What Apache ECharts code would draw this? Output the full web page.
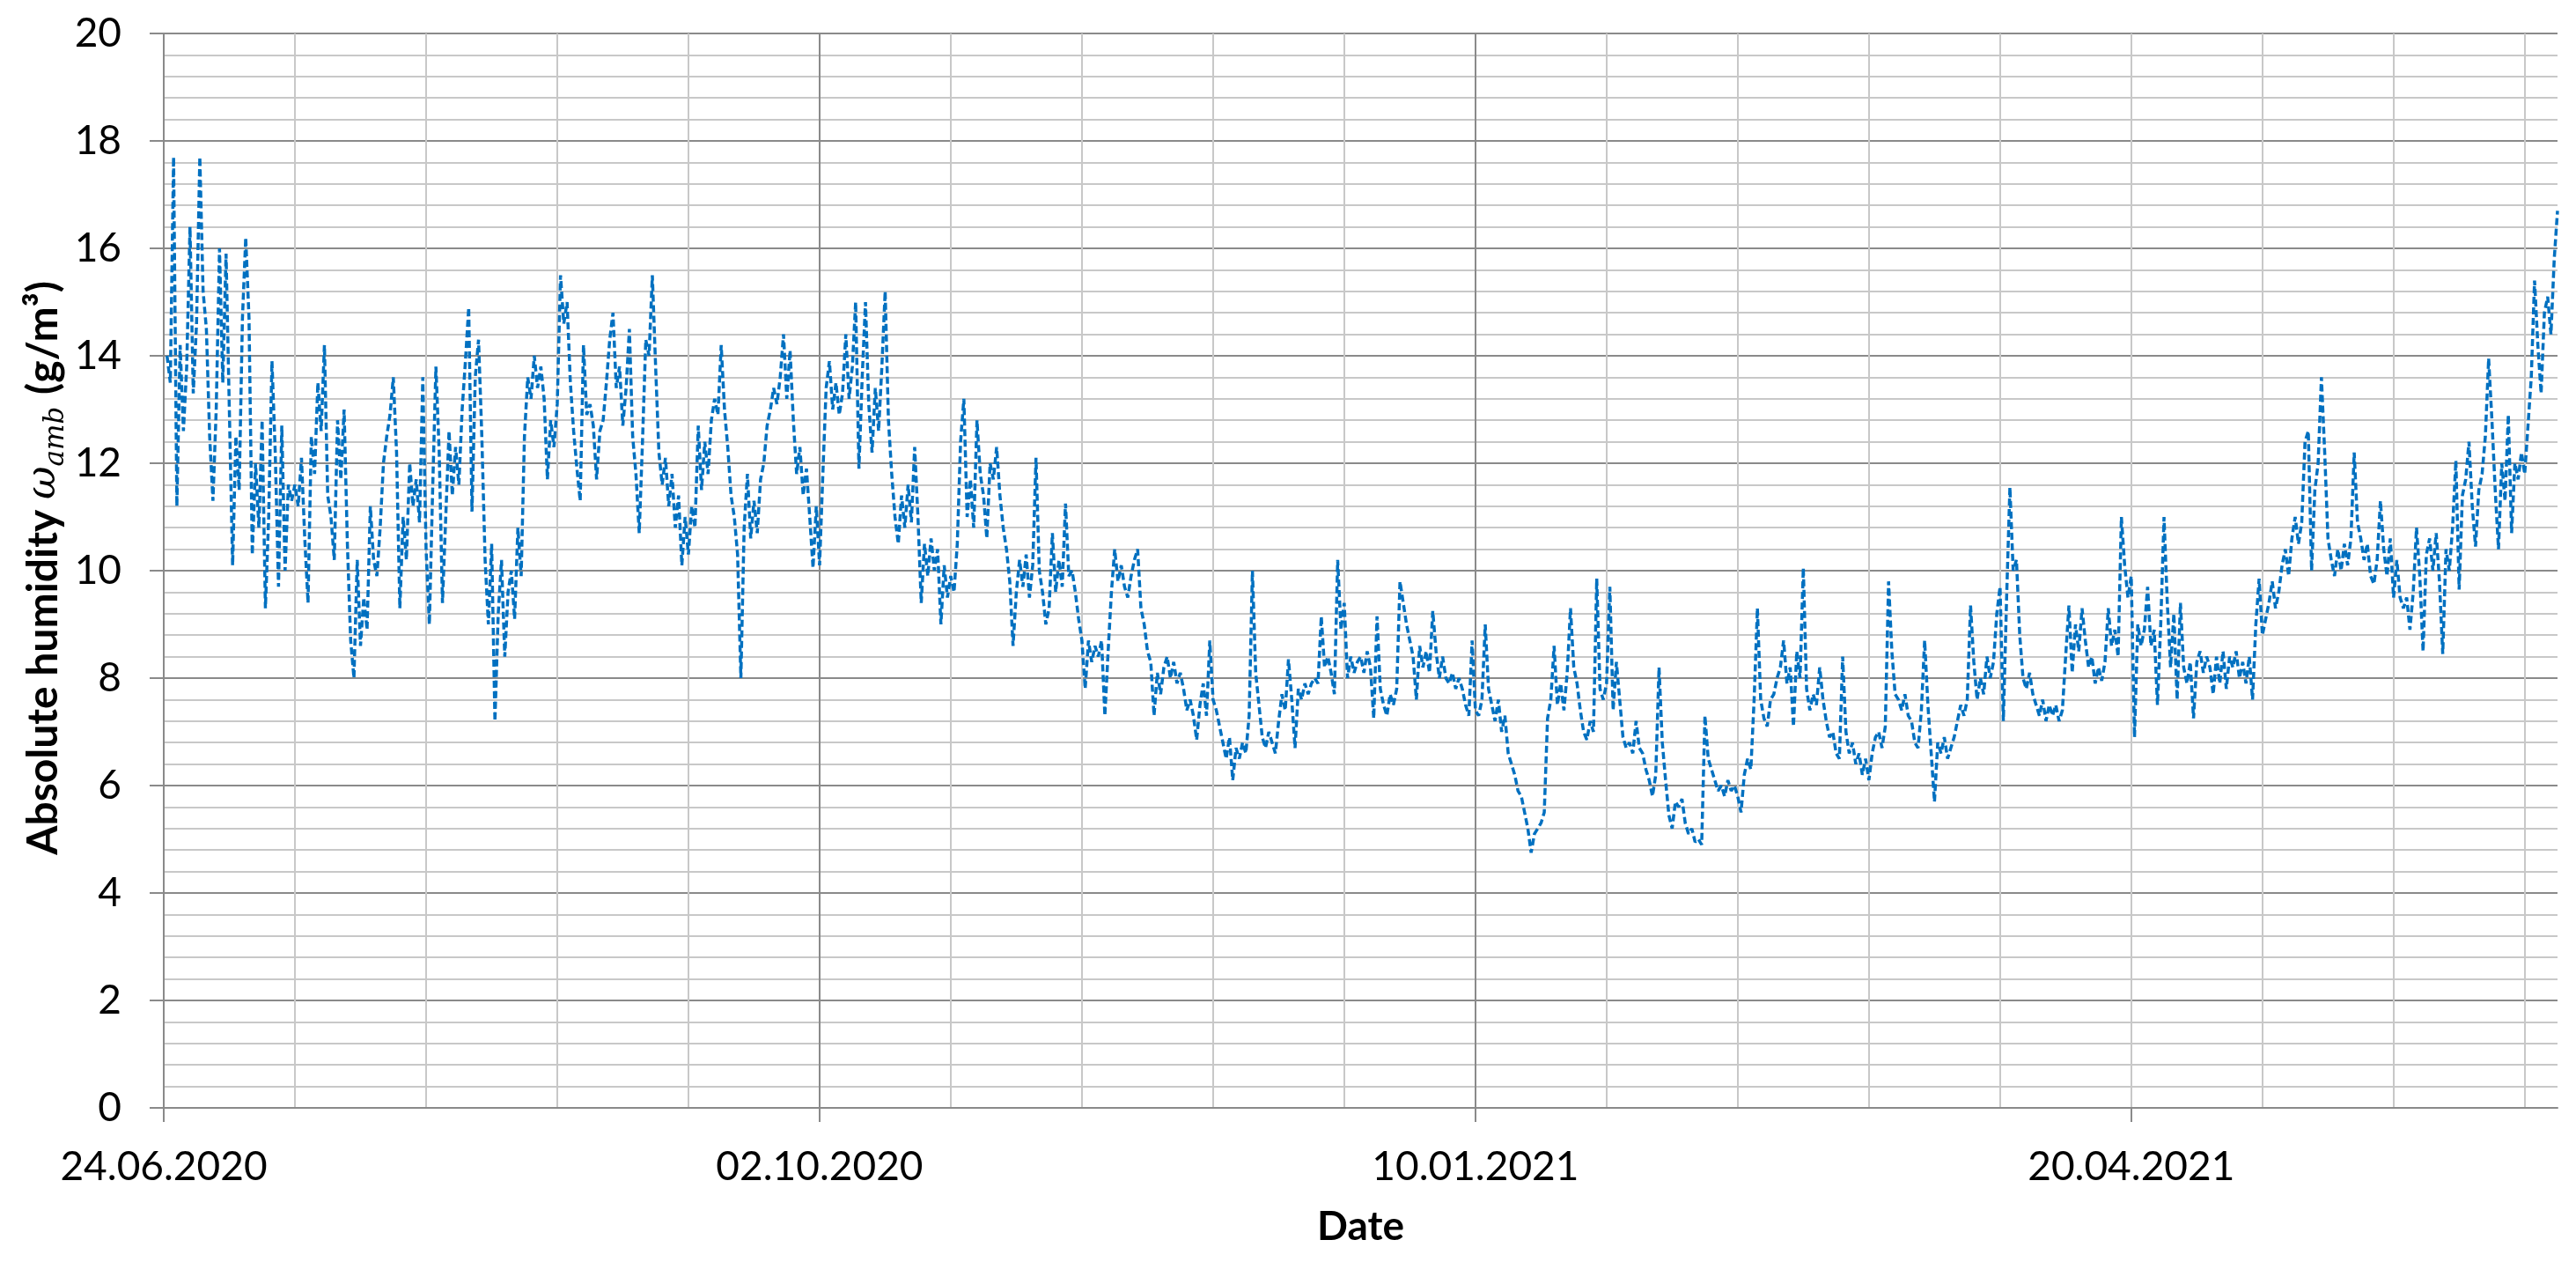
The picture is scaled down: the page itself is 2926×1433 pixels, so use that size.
<!DOCTYPE html>
<html><head><meta charset="utf-8">
<script src="https://cdn.jsdelivr.net/npm/echarts@6/dist/echarts.min.js"></script>
<style>html,body{margin:0;padding:0;background:#fff}#c{width:2926px;height:1433px}</style>
</head><body><div id="c"></div>
<script>
// x axis: days since 24.06.2020
const xTickDays = [0, 100, 200, 300];
const xTickLabels = ['24.06.2020', '02.10.2020', '10.01.2021', '20.04.2021'];
const xTitle = 'Date';
const yTitleParts = ['Absolute humidity ', 'ω', 'amb', ' (g/m³)'];
const firstDay = 0.5;   // day of first reading
const stepDays = 0.5;   // 12-hourly readings

// absolute humidity (g/m3), 12-hourly
const d000_020 = [14.0,13.5,17.7,11.2,14.2,12.6,13.8,16.4,13.3,14.6,17.7,15.2,14.5,12.5,11.3,13.0,16.0,13.5,15.9,13.0,
                  10.1,12.5,11.5,14.7,16.2,14.7,10.3,12.0,10.8,12.8,9.3,11.0,13.9,12.2,9.7,12.7,10.0,11.6,11.3,11.6];
const d020_040 = [11.2,12.1,10.6,9.4,12.5,11.8,13.5,12.6,14.2,11.4,11.0,10.2,12.8,11.7,13.0,10.5,8.7,8.0,10.2,8.6,
                  9.5,8.9,11.2,10.2,9.9,10.8,12.0,12.5,12.9,13.6,12.2,9.3,11.0,10.2,12.0,11.2,11.7,10.9,13.6,10.4];
const d040_060 = [9.0,11.5,13.8,12.2,9.4,11.0,12.6,11.4,12.3,11.6,13.0,13.9,14.9,11.1,13.6,14.3,12.5,10.2,9.0,10.5,
                  7.2,9.2,10.2,8.4,9.6,10.0,9.1,10.8,9.9,12.5,13.6,13.2,14.0,13.4,13.8,13.2,11.7,12.8,12.3,13.1];
const d060_080 = [15.5,14.6,15.0,13.5,12.6,11.9,11.3,14.2,12.9,13.1,12.7,11.7,12.6,12.8,13.5,14.3,14.8,13.4,13.8,12.7,
                  13.4,14.5,12.5,11.8,10.7,12.4,14.3,14.0,15.5,13.8,12.2,11.6,12.1,11.2,11.8,10.8,11.4,10.1,11.0,10.3];
const d080_100 = [11.2,10.8,12.7,11.5,12.4,11.8,12.8,13.2,12.9,14.2,13.0,12.3,11.4,11.0,10.3,8.0,10.8,11.8,10.6,11.3,
                  10.7,11.7,12.0,12.7,13.0,13.4,13.1,13.6,14.4,13.2,14.1,12.8,11.8,12.3,11.4,11.9,11.0,10.05,11.2,10.1];
const d100_120 = [11.8,13.4,13.9,13.0,13.5,12.9,13.3,14.4,13.2,13.8,15.0,11.9,13.6,15.0,13.1,12.2,13.4,12.6,13.8,15.2,
                  12.8,11.8,11.0,10.5,11.4,10.8,11.6,10.9,12.3,11.0,9.4,10.5,9.9,10.6,10.0,10.4,9.0,10.1,9.5,9.9];
const d120_140 = [9.6,10.5,12.4,13.2,11.0,11.7,10.8,12.8,11.8,11.4,10.6,12.0,11.7,12.3,11.4,10.8,10.4,9.8,8.6,9.6,
                  10.2,9.7,10.3,9.5,10.1,12.1,10.0,9.6,9.0,9.3,10.7,9.6,10.2,9.7,11.25,9.9,10.0,9.6,9.1,8.7];
const d140_160 = [7.8,8.7,8.3,8.6,8.4,8.7,7.3,8.5,9.6,10.4,9.8,10.1,9.7,9.5,9.9,10.2,10.4,9.3,9.0,8.5,
                  8.3,7.3,8.1,7.7,8.2,8.4,8.0,8.3,7.9,8.1,7.8,7.4,7.6,7.3,6.85,7.5,7.9,7.3,8.7,7.6];
const d160_180 = [7.4,7.1,6.8,6.5,6.9,6.1,6.7,6.5,6.8,6.6,7.3,10.0,8.1,7.5,6.9,6.7,7.0,6.8,6.6,7.2,
                  7.7,7.4,8.35,7.6,6.7,7.8,7.6,7.9,7.7,7.9,8.0,7.9,9.15,8.2,8.4,8.1,7.7,10.2,8.9,9.4];
const d180_200 = [8.0,8.4,8.1,8.3,8.4,8.1,8.5,8.2,7.25,9.15,7.8,7.5,7.3,7.7,7.5,7.8,9.8,9.4,9.0,8.7,
                  8.4,7.6,8.6,8.2,8.5,8.1,9.25,8.5,8.0,8.4,8.0,7.9,8.1,7.8,8.0,7.8,7.5,7.3,8.7,7.4];
const d200_220 = [7.3,7.6,9.0,7.8,7.5,7.2,7.6,7.0,7.3,6.6,6.4,6.2,5.9,5.8,5.5,5.2,4.75,5.1,5.2,5.3,
                  5.5,7.25,7.6,8.6,7.5,7.9,7.4,8.1,9.3,8.2,7.9,7.4,7.0,6.85,7.2,7.0,9.85,7.8,7.6,7.9];
const d220_240 = [9.7,7.4,8.3,7.6,6.9,6.7,6.8,6.6,7.2,6.7,6.6,6.3,6.1,5.8,6.2,8.2,6.8,6.1,5.45,5.2,
                  5.7,5.6,5.75,5.3,5.1,5.2,4.95,5.0,4.9,7.3,6.5,6.3,6.1,5.9,6.0,5.8,6.1,5.9,6.0,5.8];
const d240_260 = [5.5,6.2,6.5,6.3,7.6,9.3,7.6,7.25,7.1,7.6,7.7,8.0,8.2,8.7,7.9,8.2,7.1,8.5,8.0,10.05,
                  7.8,7.4,7.7,7.5,8.2,7.6,7.2,6.9,7.0,6.6,6.5,8.4,7.0,6.6,6.8,6.4,6.6,6.2,6.5,6.1];
const d260_280 = [6.6,6.9,7.0,6.7,7.1,9.8,8.5,7.7,7.6,7.4,7.7,7.3,7.2,6.8,6.7,7.4,8.7,7.5,6.6,5.7,
                  6.8,6.6,6.9,6.5,6.7,6.9,7.2,7.5,7.3,7.6,9.35,8.3,7.6,8.0,7.7,8.4,8.0,8.3,9.2,9.7];
const d280_300 = [7.2,9.5,11.55,10.0,10.2,8.8,8.0,7.8,8.1,7.7,7.5,7.3,7.6,7.2,7.5,7.3,7.5,7.2,7.4,8.4,
                  9.35,8.1,9.0,8.5,9.3,8.7,8.2,8.4,7.9,8.2,7.95,8.3,9.3,8.6,8.9,8.4,11.0,10.1,9.5,9.9];
const d300_320 = [6.9,9.0,8.6,8.9,9.7,8.6,8.9,7.5,9.0,11.0,9.4,8.2,9.2,7.6,9.4,8.2,7.9,8.3,7.25,8.3,
                  8.5,8.1,8.4,8.2,7.7,8.4,7.9,8.5,7.8,8.4,8.2,8.5,8.0,8.3,7.9,8.4,7.6,9.0,9.85,8.8];
const d320_340 = [9.1,9.4,9.8,9.3,9.6,10.1,10.4,9.9,10.6,11.0,10.5,10.9,12.4,12.6,10.0,11.5,12.0,13.6,12.2,10.6,
                  10.2,9.9,10.4,10.0,10.5,10.1,10.6,12.2,10.9,10.6,10.2,10.5,9.9,9.75,10.2,11.3,10.4,9.9,10.6,9.5];
const d340_365 = [10.2,9.5,9.3,9.5,8.9,9.6,10.8,9.9,8.5,10.3,10.6,10.0,10.7,9.8,8.45,10.4,10.0,10.8,12.05,9.65,
                  11.4,11.7,12.4,11.2,10.45,11.5,11.8,12.5,13.95,12.8,11.5,10.4,12.0,11.3,12.9,10.7,12.0,11.7,12.2,11.8,
                  12.7,13.6,15.4,14.2,13.3,14.8,15.1,14.4,15.8,16.7];

const values = [].concat(d000_020, d020_040, d040_060, d060_080, d080_100, d100_120, d120_140,
  d140_160, d160_180, d180_200, d200_220, d220_240, d240_260, d260_280, d280_300, d300_320, d320_340, d340_365);
const seriesData = values.map((v, i) => [firstDay + i * stepDays, v]);

const FONT = 'Lato';
const MAJOR = '#8a8a8a', MINOR = '#c8c8c8';
const chart = echarts.init(document.getElementById('c'), null, {renderer: 'canvas'});
chart.setOption({
  animation: false,
  backgroundColor: '#ffffff',
  grid: {left: 186, right: 21, top: 38, bottom: 175, containLabel: false},
  xAxis: [
    {
      type: 'value', min: 0, max: 365, interval: 20, position: 'bottom',
      axisLine: {show: false}, axisTick: {show: false}, axisLabel: {show: false},
      splitLine: {show: true, showMinLine: false, showMaxLine: false, lineStyle: {color: MINOR, width: 2}}
    },
    {
      type: 'value', min: 0, max: 365, interval: 100, position: 'bottom',
      axisLine: {show: true, onZero: false, lineStyle: {color: MAJOR, width: 2}},
      axisTick: {show: true, length: 16, customValues: xTickDays, lineStyle: {color: MAJOR, width: 2}},
      axisLabel: {
        show: true, customValues: xTickDays, margin: 44,
        fontFamily: FONT, fontSize: 46, color: '#000',
        formatter: v => { const i = xTickDays.indexOf(v); return i >= 0 ? xTickLabels[i] : ''; }
      },
      splitLine: {show: true, showMinLine: false, showMaxLine: false, lineStyle: {color: MAJOR, width: 2}},
      name: xTitle, nameLocation: 'middle', nameGap: 112,
      nameTextStyle: {fontFamily: FONT, fontSize: 46, fontWeight: 'bold', color: '#000'}
    }
  ],
  yAxis: {
    type: 'value', min: 0, max: 20, interval: 2,
    axisLine: {show: true, lineStyle: {color: MAJOR, width: 2}},
    axisTick: {show: true, length: 16, lineStyle: {color: MAJOR, width: 2}},
    minorTick: {show: false, splitNumber: 5},
    minorSplitLine: {show: true, lineStyle: {color: MINOR, width: 2}},
    splitLine: {show: true, lineStyle: {color: MAJOR, width: 2}},
    axisLabel: {margin: 48, fontFamily: FONT, fontSize: 46, color: '#000'}
  },
  graphic: [{
    type: 'text', x: 50, y: 645, rotation: Math.PI / 2, z: 10,
    style: {
      text: '{b|' + yTitleParts[0] + '}{w|' + yTitleParts[1] + '}{s|' + yTitleParts[2] + '}{b|' + yTitleParts[3] + '}',
      align: 'center', verticalAlign: 'middle',
      rich: {
        b: {fontFamily: FONT, fontSize: 48, fontWeight: 'bold', fill: '#000', lineHeight: 58},
        w: {fontFamily: 'DejaVu Serif', fontSize: 46, fontStyle: 'italic', fill: '#000', lineHeight: 58},
        s: {fontFamily: 'DejaVu Serif', fontSize: 31, fontStyle: 'italic', fill: '#000', lineHeight: 58, verticalAlign: 'bottom', padding: [0, 2, 0, 0]}
      }
    }
  }],
  series: [{
    type: 'line', xAxisIndex: 1, data: seriesData, showSymbol: false, symbol: 'none',
    lineStyle: {color: '#0070C0', width: 3.5, type: [8, 4]}, z: 5
  }]
});
</script>
</body></html>
